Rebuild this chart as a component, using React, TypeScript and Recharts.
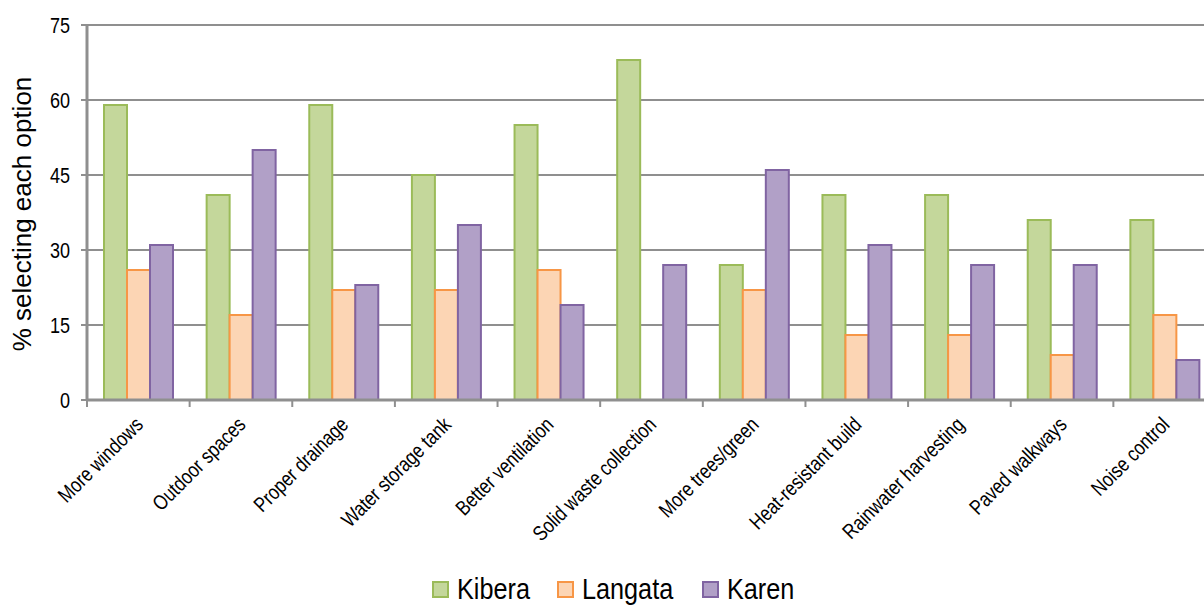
import React from 'react';
import { BarChart, Bar, XAxis, YAxis, CartesianGrid, Legend } from 'recharts';

const categories = [
  'More windows',
  'Outdoor spaces',
  'Proper drainage',
  'Water storage tank',
  'Better ventilation',
  'Solid waste collection',
  'More trees/green',
  'Heat-resistant build',
  'Rainwater harvesting',
  'Paved walkways',
  'Noise control',
];
const kibera = [59, 41, 59, 45, 55, 68, 27, 41, 41, 36, 36];
const langata = [26, 17, 22, 22, 26, 0, 22, 13, 13, 9, 17];
const karen = [31, 50, 23, 35, 19, 27, 46, 31, 27, 27, 8];
const yTicks = [0, 15, 30, 45, 60, 75];

const series = [
  { key: 'Kibera', fill: '#c4d79b', stroke: '#9bbb59' },
  { key: 'Langata', fill: '#fcd5b4', stroke: '#f79646' },
  { key: 'Karen', fill: '#b1a0c7', stroke: '#8064a2' },
];

const data = categories.map((c, i) => ({
  name: c,
  Kibera: kibera[i],
  Langata: langata[i],
  Karen: karen[i],
}));

const CHART_W = 1216;
const CHART_H = 605;
const LEFT = 87;
const HALF_BAND = (CHART_W - LEFT) / categories.length / 2;
const GRID = '#8f8f8f';
const FONT = "'Liberation Sans', Arial, sans-serif";
const NARROW = 0.82;

const XTick = (props: any) => {
  const { x, y, payload } = props;
  const ax = x + 6;
  const ay = y + 26;
  return (
    <g>
      <line x1={x - HALF_BAND} x2={x - HALF_BAND} y1={y} y2={y + 7} stroke={GRID} strokeWidth={2} />
      <text
        x={0}
        y={0}
        textAnchor="end"
        transform={`translate(${ax} ${ay}) rotate(-45) scale(${NARROW} 1)`}
        fontFamily={FONT}
        fontSize={21}
        fill="#000"
      >
        {payload.value}
      </text>
    </g>
  );
};

const YTick = (props: any) => {
  const { x, y, payload } = props;
  return (
    <text
      x={0}
      y={0}
      textAnchor="end"
      transform={`translate(${x - 9} ${y + 8}) scale(${NARROW} 1)`}
      fontFamily={FONT}
      fontSize={22}
      fill="#000"
    >
      {payload.value}
    </text>
  );
};

const LEG_X = [432, 557, 702];

const LegendContent = () => (
  <svg width={1204} height={35} style={{ display: 'block' }}>
    {series.map((s, i) => (
      <g key={s.key}>
        <rect x={LEG_X[i] + 1} y={12} width={15} height={15} fill={s.fill} stroke={s.stroke} strokeWidth={2} />
        <text
          x={0}
          y={0}
          transform={`translate(${LEG_X[i] + 25} 29) scale(0.87 1)`}
          fontFamily={FONT}
          fontSize={29}
          fill="#000"
        >
          {s.key}
        </text>
      </g>
    ))}
  </svg>
);

export default function App() {
  return (
    <div style={{ width: 1204, height: 605, overflow: 'hidden', background: '#fff' }}>
      <style>{'html,body{margin:0;padding:0;overflow:hidden;}'}</style>
      <BarChart
        width={CHART_W}
        height={CHART_H}
        data={data}
        margin={{ top: 25, right: 0, left: 0, bottom: 0 }}
        barSize={23}
        barGap={0}
      >
        <CartesianGrid vertical={false} stroke={GRID} strokeWidth={2} />
        <XAxis
          dataKey="name"
          interval={0}
          height={170}
          tick={<XTick />}
          tickLine={false}
          tickSize={0}
          tickMargin={0}
          axisLine={{ stroke: GRID, strokeWidth: 3 }}
        />
        <YAxis
          width={LEFT}
          domain={[0, 75]}
          ticks={yTicks}
          interval={0}
          tick={<YTick />}
          tickLine={{ stroke: GRID, strokeWidth: 2 }}
          tickSize={6}
          axisLine={{ stroke: GRID, strokeWidth: 3 }}
          label={{
            content: () => (
              <text
                x={31}
                y={214}
                textAnchor="middle"
                transform="rotate(-90 31 214)"
                fontFamily={FONT}
                fontSize={26}
                fill="#000"
              >
                % selecting each option
              </text>
            ),
          }}
        />
        <Legend verticalAlign="bottom" height={35} content={<LegendContent />} />
        {series.map((s) => (
          <Bar
            key={s.key}
            dataKey={s.key}
            fill={s.fill}
            stroke={s.stroke}
            strokeWidth={2}
            isAnimationActive={false}
          />
        ))}
      </BarChart>
    </div>
  );
}
